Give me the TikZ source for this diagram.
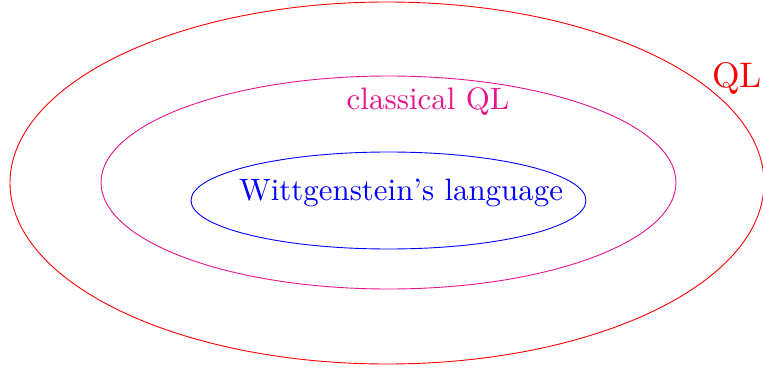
\documentclass[tikz,border=0pt]{standalone}
\definecolor{pinkQL}{RGB}{230,20,140}
\begin{document}
\begin{tikzpicture}[x=1pt,y=-1pt,
  ring/.style={line width=0.9pt},
  lbl/.style={inner sep=0pt,anchor=base}]
\useasboundingbox (0,0) rectangle (763,369);
\draw[ring,red] (387,183) ellipse [x radius=377, y radius=181];
\draw[ring,pinkQL] (388.5,182.5) ellipse [x radius=287.5, y radius=106.5];
\draw[ring,blue] (388.5,200.5) ellipse [x radius=197.5, y radius=48.5];
\node[lbl,red,scale=3.55] (ql) at (737,88) {QL};
\node[lbl,pinkQL,scale=3.1] (cql) at (428,110) {classical QL};
\node[lbl,blue,scale=3.09] (wl) at (401,200) {Wittgenstein's language};
\end{tikzpicture}
\end{document}
